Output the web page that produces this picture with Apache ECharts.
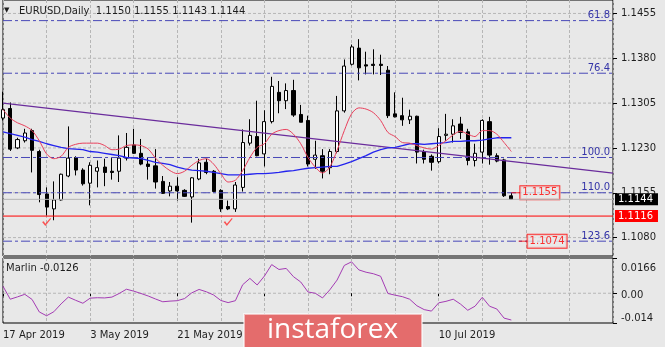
<!DOCTYPE html>
<html>
<head>
<meta charset="utf-8">
<script src="https://cdn.jsdelivr.net/npm/echarts@6/dist/echarts.min.js"></script>
<style>
html, body { margin: 0; padding: 0; background: #e8e8e8; }
#chart { width: 665px; height: 347px; }
</style>
</head>
<body>
<div id="chart"></div>
<script>
// EURUSD daily bars, 17 Apr - 24 Jul 2019
const dates = [
  '17 Apr 2019','18 Apr 2019','19 Apr 2019','22 Apr 2019','23 Apr 2019','24 Apr 2019','25 Apr 2019','26 Apr 2019','29 Apr 2019','30 Apr 2019',
  '1 May 2019','2 May 2019','3 May 2019','6 May 2019','7 May 2019','8 May 2019','9 May 2019','10 May 2019','13 May 2019','14 May 2019',
  '15 May 2019','16 May 2019','17 May 2019','20 May 2019','21 May 2019','22 May 2019','23 May 2019','24 May 2019','27 May 2019','28 May 2019',
  '29 May 2019','30 May 2019','31 May 2019','3 Jun 2019','4 Jun 2019','5 Jun 2019','6 Jun 2019','7 Jun 2019','10 Jun 2019','11 Jun 2019',
  '12 Jun 2019','13 Jun 2019','14 Jun 2019','17 Jun 2019','18 Jun 2019','19 Jun 2019','20 Jun 2019','21 Jun 2019','24 Jun 2019','25 Jun 2019',
  '26 Jun 2019','27 Jun 2019','28 Jun 2019','1 Jul 2019','2 Jul 2019','3 Jul 2019','4 Jul 2019','5 Jul 2019','8 Jul 2019','9 Jul 2019',
  '10 Jul 2019','11 Jul 2019','12 Jul 2019','15 Jul 2019','16 Jul 2019','17 Jul 2019','18 Jul 2019','19 Jul 2019','22 Jul 2019','23 Jul 2019',
  '24 Jul 2019'
];

const opens = [
  1.1280,1.1296,1.1230,1.1242,1.1259,1.1224,1.1153,1.1128,1.1143,1.1183,
  1.1214,1.1193,1.1171,1.1191,1.1198,1.1191,1.1191,1.1213,1.1235,1.1221,
  1.1203,1.1200,1.1174,1.1158,1.1166,1.1159,1.1148,1.1178,1.1206,1.1191,
  1.1159,1.1132,1.1128,1.1164,1.1238,1.1249,1.1220,1.1274,1.1323,1.1309,
  1.1326,1.1286,1.1276,1.1211,1.1217,1.1197,1.1224,1.1292,1.1370,1.1397,
  1.1369,1.1370,1.1370,1.1360,1.1287,1.1284,1.1277,1.1283,1.1224,1.1216,
  1.1207,1.1251,1.1253,1.1270,1.1257,1.1209,1.1223,1.1274,1.1217,1.1210,
  1.1150
];
const highs = [
  1.1324,1.1306,1.1247,1.1262,1.1262,1.1227,1.1164,1.1174,1.1187,1.1266,
  1.1216,1.1196,1.1206,1.1209,1.1212,1.1213,1.1251,1.1255,1.1262,1.1245,
  1.1214,1.1228,1.1183,1.1173,1.1181,1.1161,1.1181,1.1212,1.1212,1.1193,
  1.1161,1.1142,1.1173,1.1261,1.1278,1.1309,1.1293,1.1349,1.1342,1.1338,
  1.1344,1.1302,1.1284,1.1242,1.1228,1.1228,1.1317,1.1378,1.1403,1.1412,
  1.1391,1.1395,1.1386,1.1367,1.1323,1.1314,1.1294,1.1284,1.1227,1.1219,
  1.1263,1.1287,1.1278,1.1282,1.1262,1.1237,1.1278,1.1282,1.1221,1.1212,
  1.1155
];
const lows = [
  1.1276,1.1225,1.1228,1.1239,1.1189,1.1139,1.1117,1.1109,1.1142,1.1181,
  1.1184,1.1167,1.1134,1.1164,1.1166,1.1177,1.1173,1.1209,1.1220,1.1201,
  1.1177,1.1162,1.1153,1.1149,1.1142,1.1148,1.1105,1.1176,1.1186,1.1156,
  1.1123,1.1126,1.1123,1.1157,1.1234,1.1216,1.1199,1.1271,1.1288,1.1295,
  1.1282,1.1273,1.1199,1.1195,1.1179,1.1186,1.1221,1.1289,1.1368,1.1343,
  1.1353,1.1353,1.1352,1.1280,1.1281,1.1267,1.1270,1.1204,1.1204,1.1192,
  1.1204,1.1242,1.1239,1.1245,1.1201,1.1199,1.1204,1.1202,1.1206,1.1148,
  1.1143
];
const closes = [
  1.1294,1.1228,1.1244,1.1255,1.1226,1.1152,1.1131,1.1143,1.1186,1.1213,
  1.1193,1.1170,1.1201,1.1197,1.1189,1.1189,1.1213,1.1231,1.1221,1.1203,
  1.1199,1.1173,1.1154,1.1166,1.1158,1.1149,1.1180,1.1205,1.1189,1.1157,
  1.1128,1.1128,1.1168,1.1239,1.1251,1.1217,1.1274,1.1333,1.1309,1.1326,
  1.1285,1.1273,1.1203,1.1218,1.1191,1.1224,1.1292,1.1367,1.1399,1.1364,
  1.1367,1.1368,1.1368,1.1284,1.1282,1.1277,1.1283,1.1223,1.1211,1.1206,
  1.1249,1.1253,1.1267,1.1256,1.1209,1.1221,1.1276,1.1218,1.1208,1.1150,
  1.1144
];

// fast (red) and slow (blue) moving averages
const maFast = [
  1.1294,1.1280,1.1272,1.1267,1.1259,1.1242,1.1220,1.1212,1.1216,1.1231,
  1.1236,1.1238,1.1238,1.1238,1.1234,1.1227,1.1228,1.1234,1.1235,1.1234,
  1.1228,1.1213,1.1201,1.1192,1.1187,1.1191,1.1201,1.1209,1.1212,1.1203,
  1.1187,1.1173,1.1176,1.1192,1.1214,1.1231,1.1237,1.1253,1.1259,1.1261,
  1.1253,1.1237,1.1214,1.1198,1.1188,1.1198,1.1226,1.1259,1.1287,1.1297,
  1.1295,1.1289,1.1276,1.1256,1.1249,1.1239,1.1238,1.1234,1.1230,1.1228,
  1.1234,1.1242,1.1252,1.1258,1.1253,1.1249,1.1259,1.1259,1.1253,1.1239,
  1.1224
];
const maSlow = [
  1.1257,1.1254,1.1251,1.1248,1.1244,1.1241,1.1237,1.1234,1.1231,1.1229,
  1.1228,1.1227,1.1224,1.1223,1.1221,1.1219,1.1217,1.1214,1.1213,1.1212,
  1.1209,1.1206,1.1204,1.1202,1.1198,1.1195,1.1193,1.1192,1.1191,1.1189,
  1.1187,1.1185,1.1185,1.1185,1.1186,1.1187,1.1187,1.1188,1.1189,1.1191,
  1.1192,1.1194,1.1196,1.1197,1.1198,1.1199,1.1199,1.1203,1.1207,1.1212,
  1.1217,1.1223,1.1227,1.1230,1.1231,1.1234,1.1237,1.1237,1.1236,1.1237,
  1.1238,1.1239,1.1241,1.1241,1.1242,1.1242,1.1243,1.1245,1.1247,1.1247,
  1.1247
];

// Marlin oscillator
const marlin = [
  0.0033,-0.0028,-0.0017,-0.0005,-0.0029,-0.0088,-0.0106,-0.0087,-0.0050,-0.0018,
  -0.0033,-0.0047,-0.0023,-0.0021,-0.0022,-0.0018,-0.0001,0.0019,0.0010,-0.0001,
  -0.0013,-0.0027,-0.0040,-0.0037,-0.0035,-0.0025,0.0002,0.0018,0.0007,-0.0008,
  -0.0034,-0.0044,-0.0035,0.0040,0.0070,0.0039,0.0081,0.0135,0.0112,0.0117,
  0.0078,0.0053,0.0006,0.0000,-0.0022,0.0016,0.0062,0.0131,0.0148,0.0110,
  0.0099,0.0092,0.0080,-0.0001,-0.0009,-0.0016,-0.0028,-0.0059,-0.0077,-0.0084,
  -0.0045,-0.0038,-0.0028,-0.0051,-0.0080,-0.0061,-0.0019,-0.0061,-0.0074,-0.0117,
  -0.0126
];

const priceTicks = [1.1080, 1.1155, 1.1230, 1.1305, 1.1380, 1.1455];
const marlinTicks = [-0.014, 0, 0.0166];
const fibNames = ['61.8', '76.4', '100.0', '110.0', '123.6'];
const fibPrices = [1.1443, 1.1355, 1.1214, 1.1155, 1.1074];
const supportPrice = 1.1116;
const trendBars = [0, 84];
const trendPrices = [1.1305, 1.1188];
const checkBars = [6, 31];
const checkPrices = [1.1106, 1.1106];
const tagBars = [70, 71];
const tagPrices = [1.1155, 1.1074];
const emptyBars = 14;   // free space to the right of the last bar

// price scale: 6000 px per unit, 1.1455 on a half pixel so grid lines stay crisp
const priceMax = 1.14775, priceMin = 1.10492;
const FONT = '"DejaVu Sans", Verdana, sans-serif';
const FS = 10;
const TXT = '#1e1e1e';

const cats = dates.concat(Array.from({ length: emptyBars }, (_, k) => 'blank' + k));
const last = dates.length - 1;
const lastIdx = cats.length - 1;
const candles = opens.map((o, i) => [o, closes[i], lows[i], highs[i]]);
const lastClose = closes[last];

const gridLine = { color: '#b6b6b6', type: [3, 2], width: 1 };
const dateLabel = (i) => i % 12 === 0 && i < dates.length;

function hGridData(values) {
  const out = [];
  values.forEach((v) => { out.push([0, v], [lastIdx, v], [lastIdx, '-']); });
  return out;
}
function gridSeries(data, xi, yi) {
  return {
    type: 'line', xAxisIndex: xi, yAxisIndex: yi, data, z: 1, silent: true,
    showSymbol: false, connectNulls: false, lineStyle: gridLine
  };
}
function levelSeries(price, lineStyle, endLabel, z) {
  return {
    type: 'line', xAxisIndex: 0, yAxisIndex: 0, z: z || 3, silent: true,
    data: [[0, price], [lastIdx, price]], showSymbol: false,
    lineStyle, endLabel: Object.assign({ show: true, fontFamily: FONT, fontSize: FS }, endLabel)
  };
}

const chart = echarts.init(document.getElementById('chart'), null, { renderer: 'canvas' });

const fibSeries = fibPrices.map((p, k) => levelSeries(p,
  { color: '#4848b8', type: [9, 3, 3, 3], width: 1 },
  { formatter: fibNames[k], color: '#3434a8', align: 'right', verticalAlign: 'bottom', distance: 0, offset: [-3, 0] }
));

const option = {
  animation: false,
  backgroundColor: '#e8e8e8',
  textStyle: { fontFamily: FONT },
  grid: [
    { left: 3, right: 52, top: -1, height: 257, show: true, borderColor: '#000', borderWidth: 1, backgroundColor: 'transparent' },
    { left: 3, right: 52, top: 258, height: 65, show: true, borderColor: '#000', borderWidth: 1, backgroundColor: 'transparent' }
  ],
  xAxis: [
    {
      type: 'category', gridIndex: 0, data: cats, boundaryGap: false,
      axisLine: { show: false }, axisTick: { show: false }, axisLabel: { show: false },
      splitLine: { show: true, interval: 5, lineStyle: gridLine }
    },
    {
      type: 'category', gridIndex: 1, data: cats, boundaryGap: false,
      axisLine: { show: false },
      axisTick: { show: true, interval: dateLabel, length: 3, lineStyle: { color: '#000' } },
      axisLabel: { show: true, interval: dateLabel, align: 'left', color: TXT, fontSize: FS, fontFamily: FONT, margin: 7 },
      splitLine: { show: true, interval: 5, lineStyle: gridLine }
    }
  ],
  yAxis: [
    {
      type: 'value', gridIndex: 0, position: 'right', min: priceMin, max: priceMax, scale: true,
      axisLine: { show: false },
      axisTick: { show: true, customValues: priceTicks, length: 4, lineStyle: { color: '#000' } },
      axisLabel: { show: true, customValues: priceTicks, formatter: (v) => v.toFixed(4), color: TXT, fontSize: FS, fontFamily: FONT, margin: 8 },
      splitLine: { show: false }
    },
    {
      type: 'value', gridIndex: 1, position: 'right', min: marlinTicks[0], max: marlinTicks[2],
      axisLine: { show: false },
      axisTick: { show: true, customValues: marlinTicks, length: 4, lineStyle: { color: '#000' } },
      axisLabel: {
        show: true, customValues: marlinTicks, color: TXT, fontSize: FS, fontFamily: FONT, margin: 8,
        formatter: (v) => v === 0 ? '{m|0.00}' : (v > 0 ? '{t|' + v.toFixed(4) + '}' : '{b|' + v.toFixed(3) + '}'),
        rich: {
          t: { padding: [20, 0, 0, 0], fontSize: FS, color: TXT, fontFamily: FONT },
          m: { padding: [5, 0, 0, 0], fontSize: FS, color: TXT, fontFamily: FONT },
          b: { padding: [0, 0, 9, 0], fontSize: FS, color: TXT, fontFamily: FONT }
        }
      },
      splitLine: { show: false }
    }
  ],
  series: [
    gridSeries(hGridData(priceTicks), 0, 0),
    gridSeries(hGridData([0]), 1, 1),
    {
      name: 'EURUSD', type: 'candlestick', xAxisIndex: 0, yAxisIndex: 0,
      data: candles, barWidth: 3.6, clip: false, z: 2,
      itemStyle: { color: '#ffffff', color0: '#000000', borderColor: '#000000', borderColor0: '#000000', borderWidth: 1 }
    },
    ...fibSeries,
    levelSeries(lastClose, { color: '#b4b4b4', width: 1 },
      { formatter: lastClose.toFixed(4), color: '#fff', backgroundColor: '#000', padding: [1, 5, 0, 3], lineHeight: 11, distance: 2 }, 9),
    levelSeries(supportPrice, { color: '#ff0000', width: 1 },
      { formatter: supportPrice.toFixed(4), color: '#fff', backgroundColor: '#ff0000', padding: [1, 5, 0, 3], lineHeight: 11, distance: 2 }, 9),
    {
      name: 'Trend', type: 'line', xAxisIndex: 0, yAxisIndex: 0, z: 4,
      data: trendBars.map((b, k) => [b, trendPrices[k]]),
      showSymbol: false, silent: true,
      lineStyle: { color: '#6a2c9c', width: 1.2 }
    },
    {
      name: 'MA slow', type: 'line', xAxisIndex: 0, yAxisIndex: 0, z: 5,
      data: maSlow, showSymbol: false, silent: true,
      lineStyle: { color: '#2424ee', width: 1.3 }
    },
    {
      name: 'MA fast', type: 'line', xAxisIndex: 0, yAxisIndex: 0, z: 6,
      data: maFast, showSymbol: false, silent: true, smooth: 0.3,
      lineStyle: { color: '#e8405c', width: 1 }
    },
    {
      name: 'Checks', type: 'scatter', xAxisIndex: 0, yAxisIndex: 0, z: 7,
      data: checkBars.map((b, k) => [b, checkPrices[k]]),
      symbol: 'path://M0,5 L2,4 L4,7 L10,0 L11,1 L4,10 Z', symbolSize: [9, 8],
      itemStyle: { color: '#ff2a2a' }, silent: true
    },
    {
      name: 'Tags', type: 'scatter', xAxisIndex: 0, yAxisIndex: 0, z: 8,
      data: tagBars.map((b, k) => [b, tagPrices[k]]),
      symbol: 'rect', symbolSize: [9, 1], symbolOffset: [4.5, 0],
      itemStyle: { color: '#ff0000' }, silent: true,
      label: {
        show: true, position: 'right', distance: 0,
        formatter: (p) => p.value[1].toFixed(4),
        color: '#ff0000', borderColor: '#ff0000', borderWidth: 1, backgroundColor: '#e8e8e8',
        padding: [1, 2, 0, 2], fontSize: FS, fontFamily: FONT, lineHeight: 12
      }
    },
    {
      name: 'Marlin', type: 'line', xAxisIndex: 1, yAxisIndex: 1, z: 5,
      data: marlin, showSymbol: false, silent: true,
      lineStyle: { color: '#a43cb4', width: 1 }
    }
  ],
  graphic: [
    { type: 'text', left: 4, top: 7, z: 20, style: { text: '▼', fill: TXT, fontSize: 7, fontFamily: FONT } },
    {
      type: 'text', left: 19, top: 6, z: 20,
      style: {
        text: 'EURUSD,Daily  ' + [opens[last], highs[last], lows[last], closes[last]].map((v) => v.toFixed(4)).join(' '),
        fill: TXT, fontSize: FS, fontFamily: FONT
      }
    },
    { type: 'text', left: 6, top: 263, z: 20, style: { text: 'Marlin ' + marlin[last].toFixed(4), fill: TXT, fontSize: FS, fontFamily: FONT } },
    {
      type: 'rect', left: 243, top: 313, z: 100,
      shape: { x: 0, y: 0, width: 178, height: 40 },
      style: { fill: '#e46c6c', stroke: 'rgba(255,255,255,0.55)', lineWidth: 2 }
    },
    {
      type: 'text', left: 'center', top: 316, z: 101, x: -1,
      style: { text: 'instaforex', fill: '#ffffff', fontSize: 28, fontFamily: '"Open Sans", "Noto Sans", sans-serif' }
    }
  ]
};

chart.setOption(option);
</script>
</body>
</html>
